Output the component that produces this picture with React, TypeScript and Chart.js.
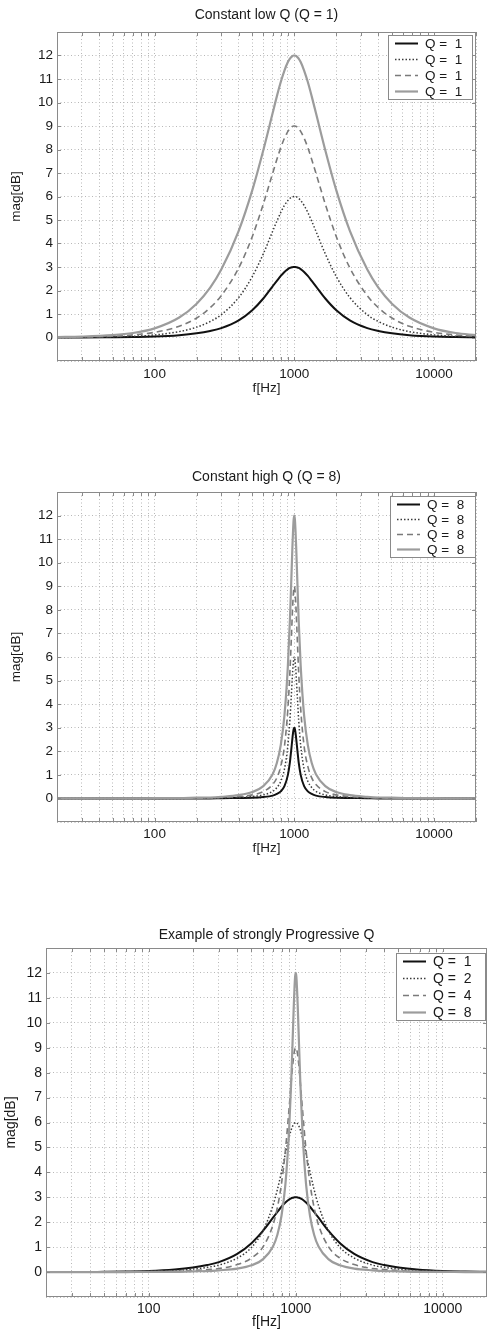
import React, { useEffect, useRef } from 'react';
import { Chart, registerables } from 'chart.js';

Chart.register(...registerables);

// ---------- data ----------
const freqs = [20, 30, 50, 70, 100, 150, 200, 250, 300, 400, 500, 600, 700, 750, 800, 850, 900, 930, 950, 970, 980, 990, 1000, 1010, 1020, 1031, 1053, 1075, 1111, 1176, 1250, 1333, 1429, 1667, 2000, 2500, 3333, 4000, 5000, 6667, 10000, 14286, 20000];

const xGridTicks = [20, 30, 40, 50, 60, 70, 80, 90, 100, 200, 300, 400, 500, 600, 700, 800, 900, 1000, 2000, 3000, 4000, 5000, 6000, 7000, 8000, 9000, 10000, 20000];
const xTickLabels = [100, 1000, 10000];
const yTickLabels = [0, 1, 2, 3, 4, 5, 6, 7, 8, 9, 10, 11, 12];

// Plot 1: constant low Q (Q = 1), gains 3/6/9/12 dB
const lowQ3 = [0.00, 0.00, 0.01, 0.02, 0.04, 0.10, 0.18, 0.28, 0.40, 0.73, 1.16, 1.66, 2.18, 2.41, 2.62, 2.79, 2.91, 2.96, 2.98, 2.99, 3.00, 3.00, 3.00, 3.00, 3.00, 2.99, 2.98, 2.96, 2.91, 2.79, 2.62, 2.41, 2.18, 1.66, 1.16, 0.73, 0.40, 0.28, 0.18, 0.10, 0.04, 0.02, 0.01];
const lowQ6 = [0.00, 0.01, 0.03, 0.05, 0.11, 0.25, 0.44, 0.68, 0.97, 1.70, 2.59, 3.56, 4.52, 4.95, 5.32, 5.62, 5.83, 5.92, 5.96, 5.99, 5.99, 6.00, 6.00, 6.00, 5.99, 5.99, 5.96, 5.92, 5.83, 5.62, 5.32, 4.95, 4.52, 3.56, 2.59, 1.70, 0.97, 0.68, 0.44, 0.25, 0.11, 0.05, 0.03];
const lowQ9 = [0.01, 0.02, 0.05, 0.11, 0.22, 0.48, 0.83, 1.27, 1.78, 2.96, 4.29, 5.68, 6.99, 7.57, 8.08, 8.48, 8.77, 8.89, 8.95, 8.98, 8.99, 9.00, 9.00, 9.00, 8.99, 8.98, 8.95, 8.89, 8.77, 8.48, 8.08, 7.57, 6.99, 5.68, 4.29, 2.96, 1.78, 1.27, 0.83, 0.48, 0.22, 0.11, 0.05];
const lowQ12 = [0.02, 0.04, 0.10, 0.19, 0.39, 0.85, 1.44, 2.12, 2.89, 4.54, 6.26, 7.97, 9.55, 10.26, 10.87, 11.36, 11.72, 11.87, 11.93, 11.98, 11.99, 12.00, 12.00, 12.00, 11.99, 11.98, 11.93, 11.87, 11.72, 11.36, 10.87, 10.26, 9.55, 7.97, 6.26, 4.54, 2.89, 2.12, 1.44, 0.85, 0.39, 0.19, 0.10];

// Plot 2: constant high Q (Q = 8), gains 3/6/9/12 dB
const highQ3 = [0, 0, 0, 0, 0, 0, 0, 0, 0.01, 0.02, 0.03, 0.06, 0.12, 0.19, 0.30, 0.52, 1.00, 1.53, 2.03, 2.56, 2.79, 2.95, 3.00, 2.95, 2.79, 2.56, 2.03, 1.53, 1.00, 0.52, 0.30, 0.19, 0.12, 0.06, 0.03, 0.02, 0.01, 0, 0, 0, 0, 0, 0];
const highQ6 = [0, 0, 0, 0, 0, 0, 0.01, 0.01, 0.02, 0.04, 0.08, 0.15, 0.30, 0.46, 0.73, 1.24, 2.26, 3.32, 4.25, 5.22, 5.63, 5.90, 6.00, 5.90, 5.63, 5.22, 4.25, 3.32, 2.26, 1.24, 0.73, 0.46, 0.30, 0.15, 0.08, 0.04, 0.02, 0.01, 0.01, 0, 0, 0, 0];
const highQ9 = [0, 0, 0, 0, 0, 0.01, 0.01, 0.02, 0.04, 0.08, 0.15, 0.29, 0.59, 0.87, 1.36, 2.21, 3.81, 5.34, 6.62, 7.94, 8.49, 8.87, 9.00, 8.87, 8.49, 7.94, 6.62, 5.34, 3.81, 2.21, 1.36, 0.87, 0.59, 0.29, 0.15, 0.08, 0.04, 0.02, 0.01, 0.01, 0, 0, 0];
const highQ12 = [0, 0, 0, 0, 0.01, 0.01, 0.03, 0.04, 0.07, 0.14, 0.27, 0.52, 1.03, 1.50, 2.26, 3.51, 5.64, 7.55, 9.11, 10.70, 11.37, 11.84, 12.00, 11.84, 11.37, 10.70, 9.11, 7.55, 5.64, 3.51, 2.26, 1.50, 1.03, 0.52, 0.27, 0.14, 0.07, 0.04, 0.03, 0.01, 0.01, 0, 0];

// Plot 3: progressive Q (Q = 1, 2, 4, 8 with gains 3/6/9/12 dB)
const progQ1 = lowQ3;
const progQ2 = [0.00, 0.00, 0.01, 0.01, 0.03, 0.06, 0.12, 0.19, 0.28, 0.56, 0.99, 1.67, 2.67, 3.31, 4.02, 4.75, 5.39, 5.70, 5.84, 5.94, 5.98, 5.99, 6.00, 5.99, 5.98, 5.94, 5.84, 5.70, 5.39, 4.75, 4.02, 3.31, 2.67, 1.67, 0.99, 0.56, 0.28, 0.19, 0.12, 0.06, 0.03, 0.01, 0.01];
const progQ4 = [0.00, 0.00, 0.00, 0.01, 0.01, 0.03, 0.06, 0.10, 0.14, 0.30, 0.56, 1.02, 1.89, 2.59, 3.55, 4.87, 6.53, 7.58, 8.22, 8.70, 8.87, 8.97, 9.00, 8.97, 8.87, 8.70, 8.22, 7.58, 6.53, 4.87, 3.55, 2.59, 1.89, 1.02, 0.56, 0.30, 0.14, 0.10, 0.06, 0.03, 0.01, 0.01, 0.00];
const progQ8 = highQ12;

const titles = ['Constant low Q (Q = 1)', 'Constant high Q (Q = 8)', 'Example of strongly Progressive Q'];
const lowLabels = ['Q =  1', 'Q =  1', 'Q =  1', 'Q =  1'];
const highLabels = ['Q =  8', 'Q =  8', 'Q =  8', 'Q =  8'];
const progLabels = ['Q =  1', 'Q =  2', 'Q =  4', 'Q =  8'];
const xTitle = 'f[Hz]';
const yTitle = 'mag[dB]';

// ---------- styles ----------
const FONT = '"Liberation Sans", Arial, Helvetica, sans-serif';
const TEXT = '#1a1a1a';
const FRAME = '#8a8a8a';
const seriesStyles = [
  { color: '#111111', width: 2, dash: [] as number[] },
  { color: '#3a3a3a', width: 1.5, dash: [1.5, 2] },
  { color: '#7a7a7a', width: 1.6, dash: [6, 4] },
  { color: '#9c9c9c', width: 2.2, dash: [] as number[] },
];

type Geo = {
  top: number; height: number; left: number; right: number;
  plotTop: number; plotBottom: number; titleY: number; xTitleY: number;
  yTitleX: number; tickPad: number; font: number; titleFont: number;
  legend: { x1: number; x2: number; y1: number; y2: number };
};

const geos: Geo[] = [
  { top: 0, height: 400, left: 57, right: 476, plotTop: 32, plotBottom: 361, titleY: 15, xTitleY: 388, yTitleX: 16, tickPad: 5, font: 13.5, titleFont: 14,
    legend: { x1: 388, x2: 472, y1: 35, y2: 99 } },
  { top: 460, height: 400, left: 57, right: 476, plotTop: 32, plotBottom: 362, titleY: 17, xTitleY: 388, yTitleX: 16, tickPad: 4, font: 13.5, titleFont: 14,
    legend: { x1: 390, x2: 475, y1: 36, y2: 97 } },
  { top: 920, height: 411, left: 46, right: 487, plotTop: 28, plotBottom: 377, titleY: 15, xTitleY: 404, yTitleX: 11, tickPad: 4, font: 14, titleFont: 14,
    legend: { x1: 396, x2: 485, y1: 33, y2: 100 } },
];

const frameLegendPlugin = {
  id: 'frameLegend',
  afterDraw(chart: any, _args: any, opts: any) {
    const { ctx, chartArea: ca } = chart;
    const xs = chart.scales.x;
    const ys = chart.scales.y;
    ctx.save();
    ctx.strokeStyle = FRAME;
    ctx.lineWidth = 1;
    ctx.setLineDash([]);
    ctx.strokeRect(Math.round(ca.left) + 0.5, Math.round(ca.top) + 0.5, Math.round(ca.width) - 1, Math.round(ca.height) - 1);
    const tl = 4;
    ctx.beginPath();
    xGridTicks.forEach((v) => {
      const px = Math.round(xs.getPixelForValue(v)) + 0.5;
      ctx.moveTo(px, ca.top); ctx.lineTo(px, ca.top + tl);
      ctx.moveTo(px, ca.bottom); ctx.lineTo(px, ca.bottom - tl);
    });
    yTickLabels.forEach((v) => {
      const py = Math.round(ys.getPixelForValue(v)) + 0.5;
      ctx.moveTo(ca.left, py); ctx.lineTo(ca.left + tl, py);
      ctx.moveTo(ca.right, py); ctx.lineTo(ca.right - tl, py);
    });
    ctx.stroke();

    // legend box
    const g = opts.box;
    ctx.fillStyle = '#ffffff';
    ctx.fillRect(g.x1, g.y1, g.x2 - g.x1, g.y2 - g.y1);
    ctx.strokeStyle = FRAME;
    ctx.strokeRect(g.x1 + 0.5, g.y1 + 0.5, g.x2 - g.x1, g.y2 - g.y1);
    const ds = chart.data.datasets;
    const rowH = (g.y2 - g.y1) / ds.length;
    ctx.font = `${opts.font}px ${FONT}`;
    ctx.textBaseline = 'middle';
    ctx.textAlign = 'left';
    ds.forEach((d: any, i: number) => {
      const cy = Math.round(g.y1 + rowH * (i + 0.5)) + 0.5;
      ctx.beginPath();
      ctx.strokeStyle = d.borderColor;
      ctx.lineWidth = d.borderWidth;
      ctx.setLineDash(d.borderDash || []);
      ctx.moveTo(g.x1 + 7, cy);
      ctx.lineTo(g.x1 + 30, cy);
      ctx.stroke();
      ctx.setLineDash([]);
      ctx.fillStyle = TEXT;
      ctx.fillText(d.label, g.x1 + 37, cy + 0.5);
    });
    ctx.restore();
  },
};

function makeConfig(geo: Geo, title: string, series: number[][], labels: string[]) {
  const lh = geo.font * 1.2;
  const tlh = geo.titleFont * 1.2;
  const datasets = series.map((s, i) => ({
    label: labels[i],
    data: freqs.map((f, k) => ({ x: f, y: s[k] })),
    borderColor: seriesStyles[i].color,
    borderWidth: seriesStyles[i].width,
    borderDash: seriesStyles[i].dash,
    pointRadius: 0,
    fill: false,
    cubicInterpolationMode: 'monotone' as const,
    order: 3 - i,
  }));
  return {
    type: 'line' as const,
    data: { datasets },
    plugins: [frameLegendPlugin],
    options: {
      animation: false as const,
      responsive: false,
      events: [],
      layout: { padding: { left: 0, right: 487 - geo.right, top: 0, bottom: 0 } },
      plugins: {
        legend: { display: false },
        tooltip: { enabled: false },
        title: {
          display: true,
          fullSize: false,
          text: title,
          color: TEXT,
          font: { family: FONT, size: geo.titleFont, weight: 'normal' as const, lineHeight: 1.2 },
          padding: { top: geo.titleY - tlh / 2, bottom: geo.plotTop - (geo.titleY + tlh / 2) },
        },
        frameLegend: { box: geo.legend, font: geo.font },
      },
      scales: {
        x: {
          type: 'logarithmic' as const,
          min: 20,
          max: 20000,
          afterBuildTicks: (s: any) => { s.ticks = xGridTicks.map((v) => ({ value: v })); },
          afterFit: (s: any) => { s.height = geo.height - geo.plotBottom; s.paddingLeft = 0; s.paddingRight = 0; },
          ticks: {
            autoSkip: false, maxRotation: 0, minRotation: 0, padding: geo.tickPad, color: TEXT,
            font: { family: FONT, size: geo.font },
            callback: (v: any) => (xTickLabels.includes(Number(v)) ? String(v) : ''),
          },
          grid: { color: '#b8b8b8', lineWidth: 1, drawTicks: false },
          border: { display: false, dash: [1, 2.5] },
          title: {
            display: true, text: xTitle, color: TEXT,
            font: { family: FONT, size: geo.font, lineHeight: 1.2 },
            padding: { top: 0, bottom: Math.max(0, geo.height - geo.xTitleY - lh / 2) },
          },
        },
        y: {
          type: 'linear' as const,
          min: -1,
          max: 13,
          afterBuildTicks: (s: any) => { s.ticks = [-1, ...yTickLabels, 13].map((v) => ({ value: v })); },
          afterFit: (s: any) => { s.width = geo.left; s.paddingTop = 0; s.paddingBottom = 0; },
          ticks: {
            autoSkip: false, padding: 4, color: TEXT,
            font: { family: FONT, size: geo.font },
            callback: (v: any) => (yTickLabels.includes(Number(v)) ? String(v) : ''),
          },
          grid: { color: '#b8b8b8', lineWidth: 1, drawTicks: false },
          border: { display: false, dash: [1, 2.5] },
          title: {
            display: true, text: yTitle, color: TEXT,
            font: { family: FONT, size: geo.font, lineHeight: 1.2 },
            padding: { top: geo.yTitleX - lh / 2, bottom: 0 },
          },
        },
      },
    },
  };
}

function PlotCanvas({ idx, series, labels }: { idx: number; series: number[][]; labels: string[] }) {
  const ref = useRef<HTMLCanvasElement | null>(null);
  const geo = geos[idx];
  useEffect(() => {
    if (!ref.current) return;
    const chart = new Chart(ref.current, makeConfig(geo, titles[idx], series, labels) as any);
    return () => chart.destroy();
  }, []);
  return (
    <canvas
      ref={ref}
      width={487}
      height={geo.height}
      style={{ position: 'absolute', left: 0, top: geo.top, width: 487, height: geo.height }}
    />
  );
}

export default function App() {
  useEffect(() => {
    document.body.style.margin = '0';
    document.body.style.background = '#ffffff';
  }, []);
  return (
    <div style={{ position: 'relative', width: 487, height: 1331, background: '#ffffff', overflow: 'hidden' }}>
      <PlotCanvas idx={0} series={[lowQ3, lowQ6, lowQ9, lowQ12]} labels={lowLabels} />
      <PlotCanvas idx={1} series={[highQ3, highQ6, highQ9, highQ12]} labels={highLabels} />
      <PlotCanvas idx={2} series={[progQ1, progQ2, progQ4, progQ8]} labels={progLabels} />
    </div>
  );
}
